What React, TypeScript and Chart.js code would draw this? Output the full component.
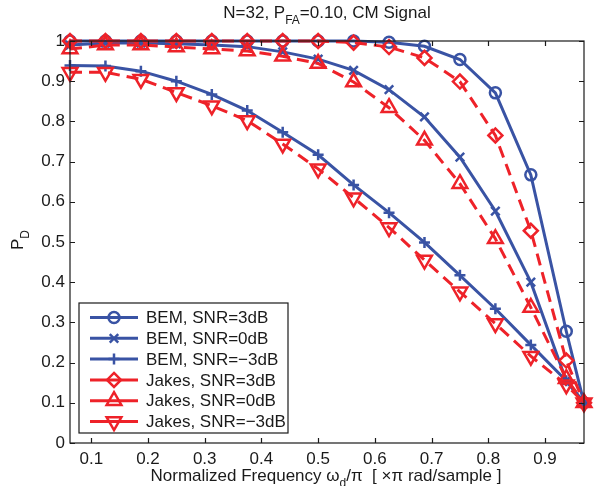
import React, { useEffect, useRef } from 'react';
import { Chart, registerables } from 'chart.js';

Chart.register(...registerables);

const freq = [0.0625, 0.125, 0.1875, 0.25, 0.3125, 0.375, 0.4375, 0.5, 0.5625, 0.625, 0.6875, 0.75, 0.8125, 0.875, 0.9375, 0.96875];
const bem3 = [1, 1, 1, 1, 1, 1, 1, 1, 1, 0.997, 0.987, 0.954, 0.871, 0.667, 0.278, 0.1];
const bem0 = [0.99, 0.995, 0.995, 0.993, 0.99, 0.986, 0.973, 0.955, 0.927, 0.879, 0.811, 0.711, 0.577, 0.4, 0.155, 0.1];
const bemM3 = [0.939, 0.938, 0.925, 0.9, 0.867, 0.827, 0.773, 0.717, 0.642, 0.573, 0.499, 0.417, 0.334, 0.244, 0.155, 0.1];
const jakes3 = [1, 1, 1, 1, 1, 1, 1, 1, 0.996, 0.985, 0.958, 0.899, 0.765, 0.528, 0.205, 0.1];
const jakes0 = [0.98, 0.99, 0.99, 0.985, 0.98, 0.975, 0.962, 0.944, 0.898, 0.834, 0.753, 0.645, 0.508, 0.337, 0.16, 0.1];
const jakesM3 = [0.922, 0.922, 0.905, 0.872, 0.839, 0.802, 0.744, 0.682, 0.61, 0.536, 0.455, 0.376, 0.297, 0.216, 0.145, 0.1];

const seriesLabels = ['BEM, SNR=3dB', 'BEM, SNR=0dB', 'BEM, SNR=\u22123dB', 'Jakes, SNR=3dB', 'Jakes, SNR=0dB', 'Jakes, SNR=\u22123dB'];
const xTicks = [0.1, 0.2, 0.3, 0.4, 0.5, 0.6, 0.7, 0.8, 0.9];
const yTicks = [0, 0.1, 0.2, 0.3, 0.4, 0.5, 0.6, 0.7, 0.8, 0.9, 1];

const BLUE = '#3953A4';
const RED = '#EE2229';
const FONT = '"Liberation Sans", Arial, Helvetica, sans-serif';
const FS = 17;

type Mk = { style: string; r: number; rot: number };
const markers: Mk[] = [
  { style: 'circle', r: 5.5, rot: 0 },
  { style: 'crossRot', r: 6, rot: 0 },
  { style: 'cross', r: 5.5, rot: 0 },
  { style: 'rectRot', r: 7, rot: 0 },
  { style: 'triangle', r: 8.5, rot: 0 },
  { style: 'triangle', r: 8.5, rot: 180 },
];

function drawMarker(ctx: CanvasRenderingContext2D, m: Mk, x: number, y: number, color: string) {
  ctx.save();
  ctx.strokeStyle = color;
  ctx.lineWidth = 2.5;
  ctx.beginPath();
  const r = m.r;
  if (m.style === 'circle') {
    ctx.arc(x, y, r, 0, Math.PI * 2);
  } else if (m.style === 'crossRot') {
    const d = r * Math.SQRT1_2;
    ctx.moveTo(x - d, y - d); ctx.lineTo(x + d, y + d);
    ctx.moveTo(x - d, y + d); ctx.lineTo(x + d, y - d);
  } else if (m.style === 'cross') {
    ctx.moveTo(x - r, y); ctx.lineTo(x + r, y);
    ctx.moveTo(x, y - r); ctx.lineTo(x, y + r);
  } else if (m.style === 'rectRot') {
    ctx.moveTo(x, y - r); ctx.lineTo(x + r, y); ctx.lineTo(x, y + r); ctx.lineTo(x - r, y); ctx.closePath();
  } else if (m.style === 'triangle') {
    const s = m.rot === 180 ? -1 : 1;
    for (let i = 0; i < 3; i++) {
      const a = (i * 2 * Math.PI) / 3;
      const px = x + Math.sin(a) * r;
      const py = y - s * Math.cos(a) * r;
      if (i === 0) ctx.moveTo(px, py); else ctx.lineTo(px, py);
    }
    ctx.closePath();
  }
  ctx.stroke();
  ctx.restore();
}

function drawParts(ctx: CanvasRenderingContext2D, parts: [string, boolean][], cx: number, y: number, size: number) {
  const subSize = Math.round(size * 0.72);
  let total = 0;
  const widths = parts.map(([t, sub]) => {
    ctx.font = `${sub ? subSize : size}px ${FONT}`;
    const w = ctx.measureText(t).width;
    total += w;
    return w;
  });
  let x = cx - total / 2;
  parts.forEach(([t, sub], i) => {
    ctx.font = `${sub ? subSize : size}px ${FONT}`;
    ctx.fillText(t, x, sub ? y + size * 0.35 : y);
    x += widths[i];
  });
}

const decorPlugin = {
  id: 'decor',
  afterDraw(chart: any) {
    const ctx: CanvasRenderingContext2D = chart.ctx;
    const { left, right, top, bottom } = chart.chartArea;
    const xs = chart.scales.x;
    const ys = chart.scales.y;
    ctx.save();
    ctx.strokeStyle = '#1a1a1a';
    ctx.lineWidth = 1.2;
    ctx.strokeRect(left, top, right - left, bottom - top);
    ctx.beginPath();
    const tl = 5;
    xTicks.forEach((v) => {
      const px = Math.round(xs.getPixelForValue(v)) + 0.5;
      ctx.moveTo(px, bottom); ctx.lineTo(px, bottom - tl);
      ctx.moveTo(px, top); ctx.lineTo(px, top + tl);
    });
    yTicks.forEach((v) => {
      const py = Math.round(ys.getPixelForValue(v)) + 0.5;
      ctx.moveTo(left, py); ctx.lineTo(left + tl, py);
      ctx.moveTo(right, py); ctx.lineTo(right - tl, py);
    });
    ctx.stroke();

    ctx.fillStyle = '#1a1a1a';
    ctx.textBaseline = 'alphabetic';
    ctx.textAlign = 'left';
    drawParts(ctx, [['N=32, P', false], ['FA', true], ['=0.10, CM Signal', false]], (left + right) / 2, 18, FS);
    drawParts(ctx, [['Normalized Frequency \u03c9', false], ['d', true], ['/\u03c0  [ \u00d7\u03c0 rad/sample ]', false]], (left + right) / 2 - 1, 481, FS);
    ctx.save();
    ctx.translate(23, 240);
    ctx.rotate(-Math.PI / 2);
    drawParts(ctx, [['P', false], ['D', true]], 0, 0, FS);
    ctx.restore();

    const lx0 = 79, ly0 = 303, lx1 = 288, ly1 = 433;
    ctx.fillStyle = '#ffffff';
    ctx.fillRect(lx0, ly0, lx1 - lx0, ly1 - ly0);
    ctx.strokeStyle = '#1a1a1a';
    ctx.lineWidth = 1.2;
    ctx.strokeRect(lx0, ly0, lx1 - lx0, ly1 - ly0);
    seriesLabels.forEach((lab, i) => {
      const y = 317.5 + i * 20.8;
      const color = i < 3 ? BLUE : RED;
      ctx.strokeStyle = color;
      ctx.lineWidth = 3;
      ctx.beginPath();
      ctx.moveTo(90, y); ctx.lineTo(138, y);
      ctx.stroke();
      drawMarker(ctx, markers[i], 114, y, color);
      ctx.fillStyle = '#1a1a1a';
      ctx.font = `${FS}px ${FONT}`;
      ctx.textBaseline = 'middle';
      ctx.fillText(lab, 146, y + 1);
    });
    ctx.restore();
  },
};

const allSeries = [bem3, bem0, bemM3, jakes3, jakes0, jakesM3];

export default function App() {
  const ref = useRef<HTMLCanvasElement | null>(null);
  useEffect(() => {
    if (!ref.current) return;
    const datasets = allSeries.map((vals, i) => {
      const isRed = i >= 3;
      const color = isRed ? RED : BLUE;
      return {
        label: seriesLabels[i],
        data: freq.map((f, k) => ({ x: f, y: vals[k] })),
        borderColor: color,
        backgroundColor: 'rgba(0,0,0,0)',
        pointBackgroundColor: 'rgba(0,0,0,0)',
        pointBorderColor: color,
        pointBorderWidth: 2.5,
        pointStyle: markers[i].style,
        pointRadius: markers[i].r,
        pointRotation: markers[i].rot,
        borderWidth: 3,
        borderDash: isRed ? [12, 7] : [],
        tension: 0,
        clip: false as any,
        order: isRed ? 0 : 1,
      };
    });
    const chart = new Chart(ref.current, {
      type: 'line',
      data: { datasets },
      options: {
        responsive: false,
        animation: false,
        devicePixelRatio: 1,
        layout: { padding: { left: 0, right: 6, top: 41, bottom: 0 } },
        plugins: { legend: { display: false }, title: { display: false }, tooltip: { enabled: false } },
        scales: {
          x: {
            type: 'linear',
            min: freq[0],
            max: freq[freq.length - 1],
            afterBuildTicks: (s: any) => { s.ticks = xTicks.map((v) => ({ value: v })); },
            afterFit: (s: any) => { s.height = 43; },
            grid: { display: false, drawTicks: false },
            border: { display: false },
            ticks: { font: { family: FONT, size: FS }, color: '#1a1a1a', padding: 6, maxRotation: 0, autoSkip: false, callback: (v: any) => String(v) },
          },
          y: {
            type: 'linear',
            min: 0,
            max: 1,
            afterBuildTicks: (s: any) => { s.ticks = yTicks.map((v) => ({ value: v })); },
            afterFit: (s: any) => { s.width = 70; },
            grid: { display: false, drawTicks: false },
            border: { display: false },
            ticks: { font: { family: FONT, size: FS }, color: '#1a1a1a', padding: 5, autoSkip: false, callback: (v: any) => String(v) },
          },
        },
      },
      plugins: [decorPlugin],
    });
    return () => chart.destroy();
  }, []);
  return (
    <div style={{ position: 'absolute', left: 0, top: 0, width: 595, height: 486, background: '#fff' }}>
      <canvas ref={ref} width={595} height={486} />
    </div>
  );
}
